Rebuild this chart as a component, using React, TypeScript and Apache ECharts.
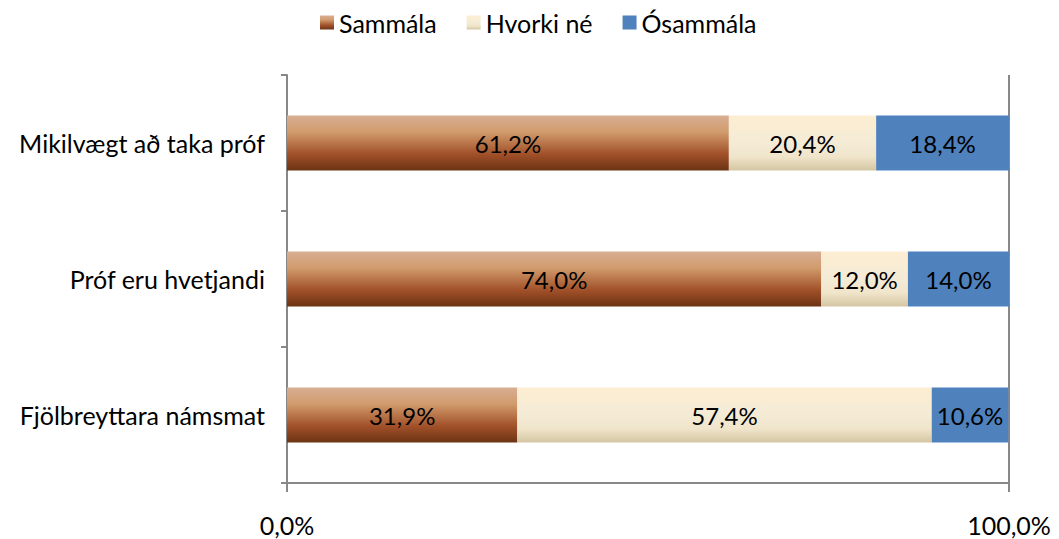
import React, { useEffect, useRef } from "react";
import * as echarts from "echarts";

const categories = ["Mikilvægt að taka próf", "Próf eru hvetjandi", "Fjölbreyttara námsmat"];
const seriesNames = ["Sammála", "Hvorki né", "Ósammála"];
const sammala = [61.2, 74.0, 31.9];
const hvorki = [20.4, 12.0, 57.4];
const osammala = [18.4, 14.0, 10.6];
const xTicks = [0, 100];

const FONT = "Lato, 'Liberation Sans', sans-serif";

const fmt = (v: number) => v.toFixed(1).replace(".", ",") + "%";

export default function App() {
  const ref = useRef<HTMLDivElement>(null);
  useEffect(() => {
    if (!ref.current) return;
    const chart = echarts.init(ref.current, null, { renderer: "svg" });
    const brown = new echarts.graphic.LinearGradient(0, 0, 0, 1, [
      { offset: 0, color: "#d9ae94" },
      { offset: 0.3, color: "#d19b6c" },
      { offset: 0.7, color: "#a25129" },
      { offset: 1, color: "#6b3314" },
    ]);
    const cream = new echarts.graphic.LinearGradient(0, 0, 0, 1, [
      { offset: 0, color: "#fdeed2" },
      { offset: 0.5, color: "#f4ebd6" },
      { offset: 0.75, color: "#f0e5cb" },
      { offset: 1, color: "#d4c6a2" },
    ]);
    const colors: any[] = [brown, cream, "#4f81bd"];
    const datas = [sammala, hvorki, osammala];
    chart.setOption({
      animation: false,
      textStyle: { fontFamily: FONT },
      legend: {
        top: 5,
        left: 315,
        icon: "rect",
        itemWidth: 14,
        itemHeight: 14,
        itemGap: 30,
        textStyle: { fontSize: 25, color: "#000", fontFamily: FONT },
        data: seriesNames,
      },
      grid: { left: 287, right: 50, top: 75, bottom: 56, containLabel: false },
      xAxis: {
        type: "value",
        min: 0,
        max: 100,
        interval: 100,
        axisLine: { show: true, lineStyle: { color: "#888", width: 2 } },
        axisTick: { show: true, length: 9, lineStyle: { color: "#888", width: 2 } },
        splitLine: { show: true, lineStyle: { color: "#888", width: 2 } },
        axisLabel: {
          formatter: (v: number) => (xTicks.includes(v) ? fmt(v) : ""),
          fontSize: 25,
          color: "#000",
          margin: 29,
          fontFamily: FONT,
        },
      },
      yAxis: {
        type: "category",
        inverse: true,
        data: categories,
        axisLine: { show: true, lineStyle: { color: "#888", width: 2 } },
        axisTick: { show: true, length: 6, lineStyle: { color: "#888", width: 2 } },
        axisLabel: { fontSize: 25, color: "#000", margin: 22, fontFamily: FONT },
        splitLine: { show: false },
      },
      series: seriesNames.map((name, i) => ({
        name,
        type: "bar",
        stack: "total",
        barWidth: 55,
        data: datas[i],
        itemStyle: { color: colors[i] },
        label: {
          show: true,
          position: "inside",
          formatter: (p: any) => fmt(p.value),
          fontSize: 24,
          color: "#000",
          fontFamily: FONT,
        },
      })),
    });
    return () => chart.dispose();
  }, []);
  return <div ref={ref} style={{ width: 1059, height: 539, position: "absolute", left: 0, top: 0 }} />;
}
